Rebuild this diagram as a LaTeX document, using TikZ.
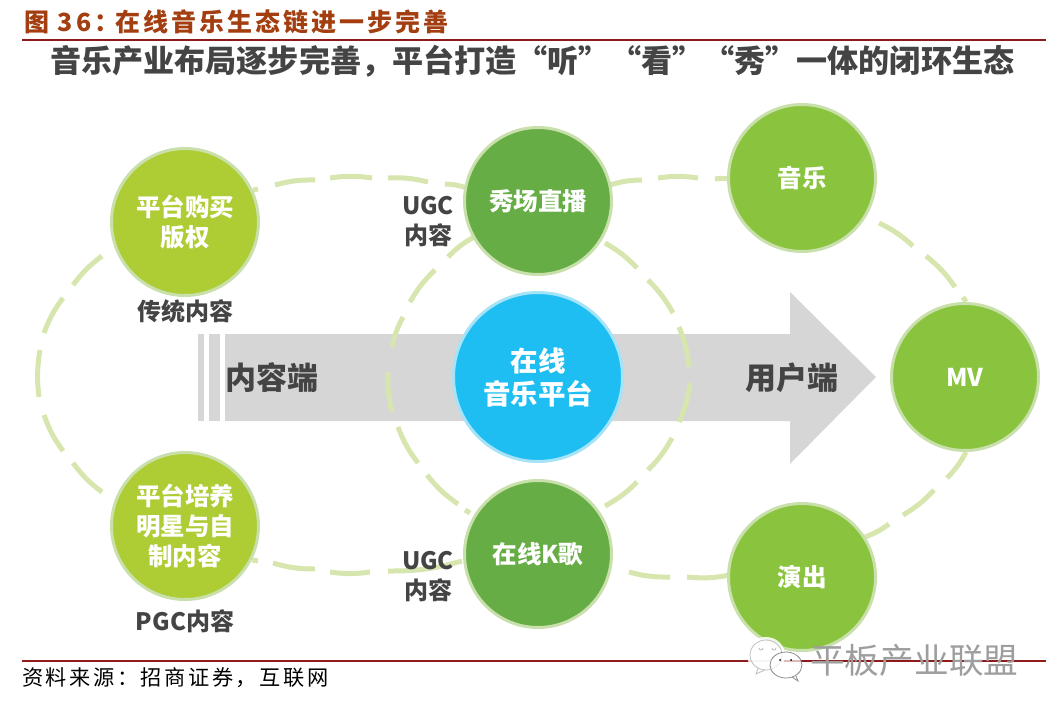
\documentclass[tikz,border=0pt]{standalone}
\usepackage{fontspec}
\usepackage{xcolor}
\setmainfont{Noto Sans CJK SC}
\newfontfamily\spacedcjk[LetterSpace=12]{Noto Sans CJK SC}
\definecolor{limegreen}{HTML}{AECD35}
\definecolor{deepgreen}{HTML}{66AD45}
\definecolor{leafgreen}{HTML}{8AC43F}
\definecolor{skyblue}{HTML}{1EBEF2}
\definecolor{skyedge}{HTML}{A6E3F7}
\definecolor{ringgreen}{HTML}{D6E6AE}
\definecolor{edgegreen}{HTML}{C9E0AC}
\definecolor{arrowgrey}{HTML}{D6D6D6}
\definecolor{inkgrey}{HTML}{444444}
\definecolor{titlebrown}{HTML}{A23E10}
\definecolor{rulered}{HTML}{8E1A1A}
\tikzset{
  bubble/.style={circle, minimum size=147pt, inner sep=0pt, line width=3pt, draw=edgegreen, text=white, align=center,
    font=\fontsize{24.5}{30}\selectfont\bfseries},
  ring/.style={ringgreen, line width=5pt},
  tag/.style={text=inkgrey, align=center, font=\fontsize{24}{30}\selectfont\bfseries},
  sidetag/.style={text=inkgrey, font=\fontsize{31}{36}\selectfont\bfseries},
  rulerline/.style={rulered, line width=1.4pt}
}

\begin{document}
\begin{tikzpicture}[x=1pt,y=-1pt]
\useasboundingbox (0,0) rectangle (1054,714);
% headings
\node[anchor=west, inner sep=0pt, text=titlebrown, font=\fontsize{25}{30}\selectfont\spacedcjk\bfseries] (caption) at (24,22) {图 36：\hspace{-4pt}在线音乐生态链进一步完善};
\draw[rulerline] (22,40) -- (1046,40);
\node[anchor=west, inner sep=0pt, text=inkgrey, font=\fontsize{31.1}{36}\selectfont\bfseries] (headline) at (50,61) {音乐产业布局逐步完善，平台打造“听”“看”“秀”一体的闭环生态};
% main arrow
\fill[arrowgrey] (225,334) -- (790,334) -- (790,292) -- (876,377) -- (790,464) -- (790,421) -- (225,421) -- cycle;
\fill[arrowgrey] (198,334) rectangle (204,421);
\fill[arrowgrey] (209,334) rectangle (220,421);
% outer loop, clockwise
\foreach \xa/\ya/\xb/\yb in {102/492/73/463, 63/451/44/415, 39/397/40/350, 44/333/63/298, 73/285/102/256,
    253/190/258/189, 275/185/315/180, 330/178/372/178, 388/178/428/182, 445/184/467/188,
    610/185/642/180, 658/178/698/178, 715/179/730/179, 879/223/913/246, 926/256/955/287, 963/297/966/302,
    966/452/947/478, 934/490/903/515, 889/524/865/537, 730/575/687/577, 670/577/629/572,
    462/561/388/571, 370/572/330/572, 315/569/273/563, 258/561/252/560}
  \draw[ring] (\xa,\ya) to[bend left=8] (\xb,\yb);
% inner loop, clockwise
\foreach \xa/\ya/\xb/\yb in {605/243/637/268, 648/280/673/313, 679/327/689/367, 690/383/679/422, 672/438/648/470, 637/482/605/506,
    470/513/465/510, 458/504/427/475, 418/463/398/427, 392/412/388/372, 392/347/403/317, 410/302/435/270, 448/257/474/237}
  \draw[ring] (\xa,\ya) to[bend left=8] (\xb,\yb);
% circles
\node[bubble, fill=limegreen] (buy) at (185,222) {平台购买\\版权};
\node[bubble, fill=limegreen] (train) at (185,526) {平台培养\\明星与自\\制内容};
\node[bubble, fill=deepgreen] (live) at (538,201) {秀场直播};
\node[bubble, fill=deepgreen] (ktv) at (538,554) {在线K歌};
\node[bubble, fill=leafgreen] (music) at (802,178) {音乐};
\node[bubble, fill=leafgreen] (show) at (802,577) {演出};
\node[bubble, fill=leafgreen] (mv) at (965,377) {MV};
\node[circle, minimum size=169pt, inner sep=0pt, line width=3pt, draw=skyedge, fill=skyblue, text=white, align=center, font=\fontsize{27.5}{33}\selectfont\bfseries] (hub) at (538,377) {在线\\音乐平台};
% labels
\node[tag] (oldtag) at (185,311) {传统内容};
\node[tag] (pgctag) at (185,621) {PGC内容};
\node[tag] (ugctop) at (428,222) {UGC\\内容};
\node[tag] (ugcbot) at (428,577) {UGC\\内容};
\node[sidetag] (source) at (272,378) {内容端};
\node[sidetag] (user) at (792,378) {用户端};
% footer
\draw[rulerline] (22,661) -- (1046,661);
\node[anchor=west, inner sep=0pt, text=black, font=\fontsize{21.2}{26}\selectfont\spacedcjk] (foot) at (22,678) {资料来源：招商证券，互联网};
% watermark
\fill[white, opacity=0.85] (766,655) ellipse (19 and 18);
\draw[black!25, fill=white, fill opacity=0.7, line width=0.8pt] (766,655) ellipse (16 and 15);
\draw[black!25, line width=0.8pt] (758,668) -- (756,674) -- (765,670);
\draw[black!45, fill=white, fill opacity=0.7, line width=0.8pt] (786,665) ellipse (16 and 13);
\draw[black!45, line width=0.8pt] (792,677) -- (798,681) -- (796,676);
\fill[black] (780,660) circle (1pt);
\fill[black] (791,660) circle (1pt);
\draw[black!30, line width=0.7pt] (759,648) arc (180:0:2);
\draw[black!30, line width=0.7pt] (772,648) arc (180:0:2);
\node[anchor=west, inner sep=0pt, text=black!38, font=\fontsize{34.7}{38}\selectfont] (mark) at (810,660) {平板产业联盟};
\end{tikzpicture}
\end{document}
